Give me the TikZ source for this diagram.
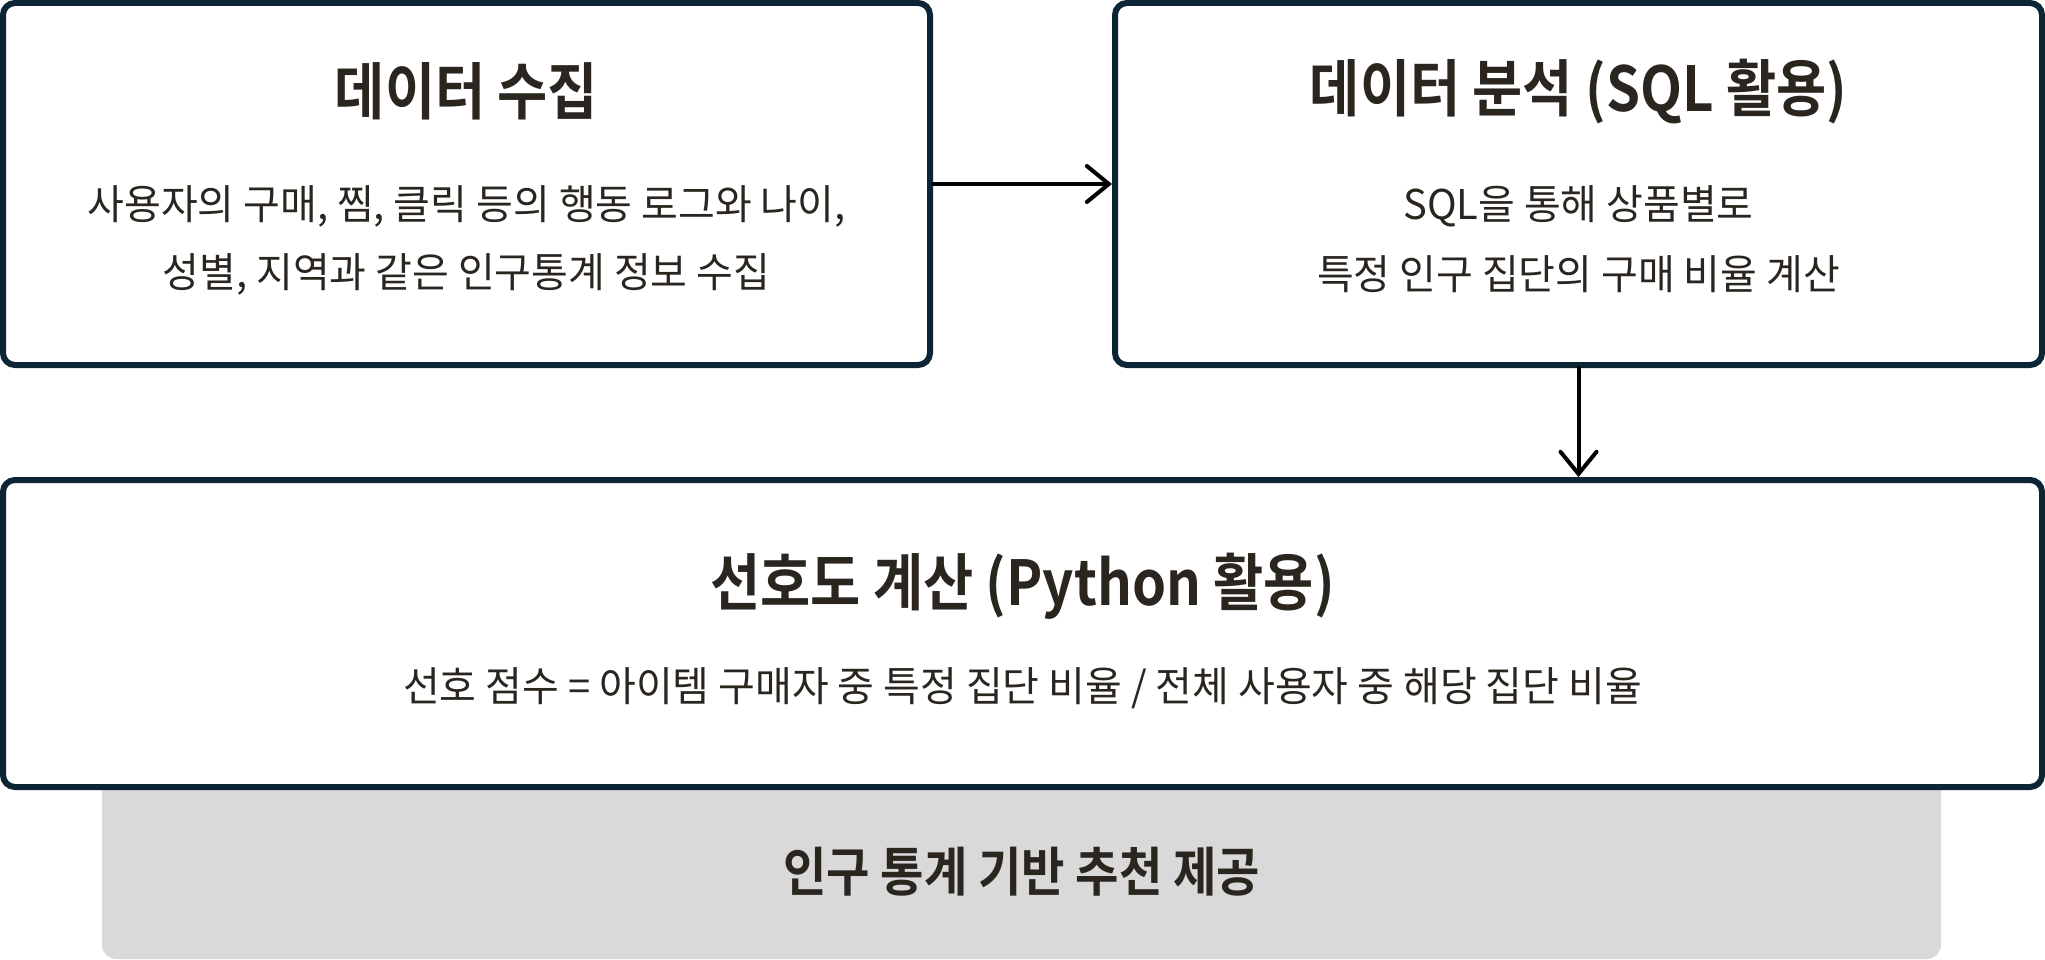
\documentclass[tikz,border=0pt]{standalone}
\usepackage{fontspec}
\setmainfont{Noto Sans CJK KR}
\newfontfamily\titlefont{Noto Sans CJK KR Bold}[FakeStretch=0.88]
\newfontfamily\footfont{Noto Sans CJK KR Bold}[FakeStretch=0.89]
\newfontfamily\bodyfont{Noto Sans CJK KR}[FakeStretch=0.975]
\usetikzlibrary{arrows.meta}
\definecolor{bordercol}{HTML}{0B2535}
\definecolor{txtcol}{HTML}{2A251F}
\definecolor{graycol}{HTML}{D9D9D9}
\tikzset{
  box/.style={draw=bordercol, line width=6pt, rounded corners=12pt, fill=white, inner sep=0pt},
  footbox/.style={fill=graycol, rounded corners=14pt, inner sep=0pt},
  ttl/.style={text=txtcol, font=\titlefont\fontsize{62}{68}\selectfont, inner sep=0pt},
  foottxt/.style={text=txtcol, font=\footfont\fontsize{53}{60}\selectfont, inner sep=0pt},
  body/.style={text=txtcol, font=\bodyfont\fontsize{41}{48}\selectfont, inner sep=0pt},
  arr/.style={-{Straight Barb[length=22pt,width=36pt,line cap=round]}, line width=4pt, line cap=round, black}
}
\begin{document}
\begin{tikzpicture}[x=1pt,y=-1pt]
\useasboundingbox (0,0) rectangle (2045,960);
\node[footbox, minimum width=1839pt, minimum height=259pt] (foot) at (1021.5,829.5) {};
\node[box, minimum width=927pt, minimum height=362pt] (b1) at (466.5,184) {};
\node[box, minimum width=927pt, minimum height=362pt] (b2) at (1578.5,184) {};
\node[box, minimum width=2039pt, minimum height=307pt] (b3) at (1022.5,633.5) {};
\node[ttl] (t1) at (466.5,91) {데이터 수집};
\node[body] (l1a) at (466.5,206) {사용자의 구매, 찜, 클릭 등의 행동 로그와 나이,};
\node[body] (l1b) at (466.5,274) {성별, 지역과 같은 인구통계 정보 수집};
\node[ttl] (t2) at (1578.5,92) {데이터 분석 (SQL 활용)};
\node[body] (l2a) at (1578.5,206) {SQL을 통해 상품별로};
\node[body] (l2b) at (1578.5,274) {특정 인구 집단의 구매 비율 계산};
\node[ttl] (t3) at (1022.5,586) {선호도 계산 (Python 활용)};
\node[body] (l3) at (1022.5,688) {선호 점수 = 아이템 구매자 중 특정 집단 비율 / 전체 사용자 중 해당 집단 비율};
\node[foottxt] (t4) at (1021.5,872) {인구 통계 기반 추천 제공};
\draw[arr] (b1.east) -- (b2.west);
\draw[arr] (b2.south) -- (b3.north -| b2.south);
\end{tikzpicture}
\end{document}
